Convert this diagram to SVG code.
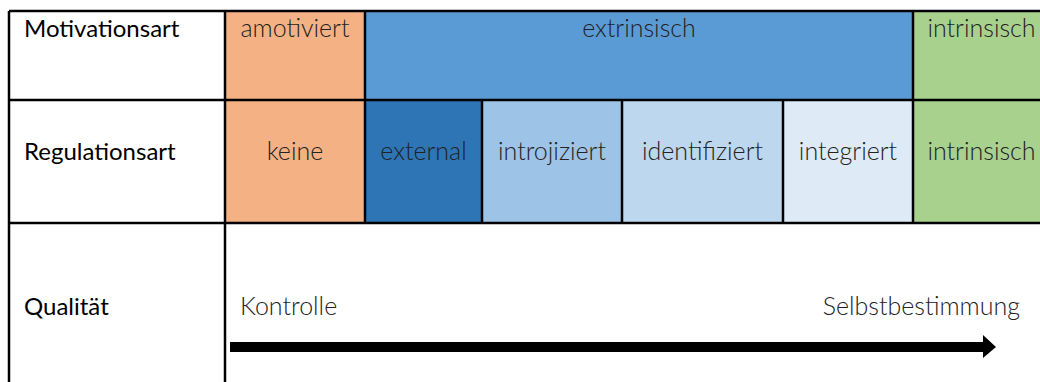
<svg xmlns="http://www.w3.org/2000/svg" width="1040" height="382" viewBox="0 0 1040 382">
<style>
.lbl{font-family:"Lato","Liberation Sans",sans-serif;font-size:24px;fill:#000}
.cell{font-family:"Lato","Liberation Sans",sans-serif;font-weight:300;font-size:25px;fill:#222;text-anchor:middle}
.ln{stroke:#000;stroke-width:2.5;fill:none}
</style>
<rect x="0" y="0" width="1040" height="382" fill="#fff"/>
<g id="cells">
<rect x="365" y="11" width="548" height="89" fill="#5B9BD5"/>
<rect x="225" y="11" width="140" height="212" fill="#F4B183"/>
<rect x="365" y="100" width="117" height="123" fill="#2E75B6"/>
<rect x="482" y="100" width="140" height="123" fill="#9DC3E6"/>
<rect x="622" y="100" width="161" height="123" fill="#BDD7EE"/>
<rect x="783" y="100" width="130" height="123" fill="#DEEBF7"/>
<rect x="913" y="11" width="140" height="212" fill="#A9D18E"/>
</g>
<g id="grid">
<path class="ln" d="M9 11H1045M9 100H1045M9 223H1045M9 11V390M225 11V390M365 11V223M913 11V223M482 100V223M622 100V223M783 100V223"/>
</g>
<g id="row-labels">
<text class="lbl" x="24" y="37">Motivationsart</text>
<text class="lbl" x="24" y="160">Regulationsart</text>
<text class="lbl" x="24" y="315">Qualität</text>
</g>
<g id="motivation">
<text class="cell" x="295" y="37">amotiviert</text>
<text class="cell" x="639" y="37">extrinsisch</text>
<text class="cell" x="981.5" y="37">intrinsisch</text>
</g>
<g id="regulation">
<text class="cell" x="295" y="160">keine</text>
<text class="cell" x="423.5" y="160">external</text>
<text class="cell" x="552" y="160">introjiziert</text>
<text class="cell" x="702.5" y="160">identifiziert</text>
<text class="cell" x="848" y="160">integriert</text>
<text class="cell" x="981.5" y="160">intrinsisch</text>
</g>
<g id="quality">
<text class="cell" x="240" y="315" style="text-anchor:start">Kontrolle</text>
<text class="cell" x="1020" y="315" style="text-anchor:end">Selbstbestimmung</text>
</g>
<g id="connectors">
<path d="M230 342H983V335L996 347L983 358V352H230Z" fill="#000"/>
</g>
</svg>
